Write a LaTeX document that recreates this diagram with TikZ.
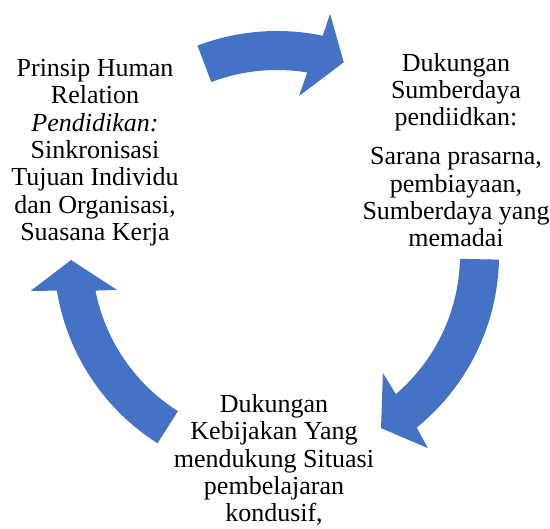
\documentclass[tikz,border=0pt]{standalone}
\usepackage{fontspec}
\setmainfont{Liberation Serif}
\definecolor{arrowblue}{HTML}{4472C4}
\begin{document}
\begin{tikzpicture}[x=1pt,y=1pt]
\tikzset{
  cyclearrow/.style={fill=arrowblue,draw=none},
  cyctext/.style={align=center,inner sep=0pt,anchor=base,font=\fontsize{26}{27.4}\selectfont}
}
\useasboundingbox (0,0) rectangle (550,529);
\coordinate (C) at (277,274);
\begin{scope}[shift={(C)}]
  % top arrow
  \fill[cyclearrow] (110.8:224) arc[start angle=110.8,end angle=78.2,radius=224]
    -- (77.6:247) -- (70.9:204) -- (82.1:160.5) -- (80.6:185)
    arc[start angle=80.6,end angle=110.8,radius=185] -- cycle;
  % right arrow
  \fill[cyclearrow] (-1.2:222) arc[start angle=-1.2,end angle=-51,radius=222]
    -- (-52:245) -- (-59:202) -- (-48.1:158.6) -- (-49.5:183)
    arc[start angle=-49.5,end angle=-1.2,radius=183] -- cycle;
  % left arrow
  \fill[cyclearrow] (237.6:223) arc[start angle=237.6,end angle=189.2,radius=223]
    -- (188.3:249) -- (181.4:206) -- (192.3:163.8) -- (191.1:185)
    arc[start angle=191.1,end angle=237.6,radius=185] -- cycle;
\end{scope}
% base anchor of a multi-line node = baseline of its last line
\node[cyctext] (hr) at (95,288.3) {Prinsip Human\\Relation\\\textit{Pendidikan:}\\Sinkronisasi\\Tujuan Individu\\dan Organisasi,\\Suasana Kerja};
\node[cyctext] (sd) at (456,282) {Dukungan\\Sumberdaya\\pendiidkan:\\[11.5pt]Sarana prasarna,\\pembiayaan,\\Sumberdaya yang\\memadai};
\node[cyctext] (kb) at (274,7) {Dukungan\\Kebijakan Yang\\mendukung Situasi\\pembelajaran\\kondusif,};
\end{tikzpicture}
\end{document}
